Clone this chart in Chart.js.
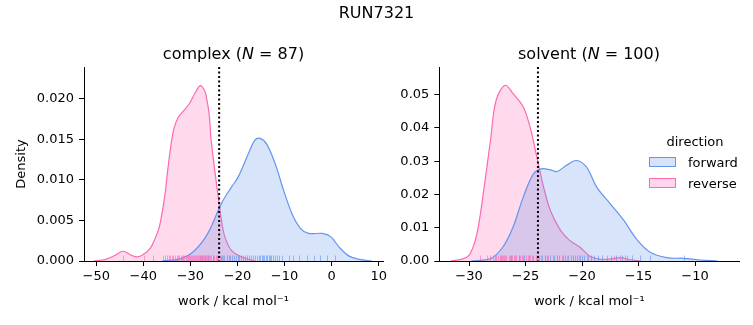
<!DOCTYPE html>
<html>
<head>
<meta charset="utf-8">
<script src="https://cdn.jsdelivr.net/npm/chart.js@4"></script>
<style>
	body { margin: 0; background: #fff; font-family: "DejaVu Sans", sans-serif; color: #000; }
	#wrap { position: relative; width: 753px; height: 325px; overflow: hidden; }
	canvas { position: absolute; top: 0; }
	.t { position: absolute; white-space: nowrap; }
	.big { font-size: 16px; line-height: 16px; }
	.small { font-size: 13px; line-height: 13px; }
	.swatch { position: absolute; width: 27px; height: 10px; box-sizing: border-box; }
</style>
</head>
<body>
<div id="wrap">
	<canvas id="complex" width="392" height="325" style="left:0"></canvas>
	<canvas id="solvent" width="361" height="325" style="left:392px"></canvas>

	<div class="t big" style="left:0;width:753px;top:4.5px;text-align:center">RUN7321</div>
	<div class="t big" style="left:84px;width:299px;top:45.5px;text-align:center">complex (<i>N</i> = 87)</div>
	<div class="t big" style="left:439px;width:300px;top:45.5px;text-align:center">solvent (<i>N</i> = 100)</div>

	<div class="t small" style="left:645px;width:100px;top:134.5px;text-align:center">direction</div>
	<div class="swatch" style="left:649px;top:157px;background:rgba(100,149,237,0.27);border:1px solid #6495ED"></div>
	<div class="t small" style="left:688px;top:155.8px">forward</div>
	<div class="swatch" style="left:649px;top:178px;background:rgba(255,105,180,0.27);border:1px solid #FF69B4"></div>
	<div class="t small" style="left:688px;top:176.5px">reverse</div>
</div>

<script>
// KDE curves (x = work, y = density)
const complexForwardX = [ -36, -32, -29.1, -26.3, -23.4, -21.3, -19.9, -17.7, -16.3, -15.2, -13.8, -12.0, -10.2, -8.4, -6.6, -4.9, -2.0, -0.2, 1.6, 3.7, 5.9, 8.5 ];
const complexForwardY = [ 0, 0.0003, 0.0013, 0.0034, 0.0071, 0.0091, 0.0103, 0.0132, 0.0149, 0.0151, 0.0144, 0.0120, 0.0087, 0.0058, 0.0040, 0.0034, 0.0034, 0.0030, 0.0017, 0.0006, 0.0002, 0 ];

const complexReverseX = [ -50.5, -48, -46, -44.3, -42.5, -41.3, -40, -38.5, -37.7, -36.8, -36.3, -35.4, -34.9, -34.2, -33.5, -32.6, -31.6, -30.2, -29.1, -27.9, -27.0, -26.6, -26.0, -25.6, -24.1, -23.4, -22.7, -21.3, -19.1, -16.3 ];
const complexReverseY = [ 0, 0.0002, 0.0007, 0.0012, 0.0007, 0.0005, 0.0008, 0.0016, 0.0025, 0.0038, 0.0050, 0.0082, 0.0108, 0.0140, 0.0163, 0.0177, 0.0184, 0.0194, 0.0206, 0.0216, 0.0210, 0.0202, 0.0180, 0.0149, 0.0079, 0.0050, 0.0030, 0.0013, 0.0005, 0 ];

const solventForwardX = [ -29.8, -28.1, -27.0, -26.1, -25.2, -24.3, -23.6, -22.8, -22.2, -21.4, -20.5, -19.6, -18.7, -17.5, -16.3, -15.2, -14.0, -12.5, -11.0, -9.6, -8.0 ];
const solventForwardY = [ 0, 0.0007, 0.0042, 0.0102, 0.0192, 0.0262, 0.0277, 0.0274, 0.0269, 0.0287, 0.0302, 0.0282, 0.0222, 0.0172, 0.0122, 0.0067, 0.0027, 0.0010, 0.0008, 0.0003, 0 ];

const solventReverseX = [ -31.6, -30.5, -29.9, -29.3, -28.7, -28.1, -27.6, -26.8, -26.1, -25.2, -24.6, -24.0, -23.4, -22.8, -21.9, -21.1, -20.2, -19.3, -18.4, -17.5, -16.6, -15.8, -14.8 ];
const solventReverseY = [ 0, 0.0007, 0.0022, 0.0082, 0.0212, 0.0363, 0.0483, 0.0528, 0.0503, 0.0463, 0.0403, 0.0313, 0.0222, 0.0152, 0.0092, 0.0062, 0.0042, 0.0014, 0.0005, 0.0006, 0.0010, 0.0004, 0 ];

// individual work values (rug ticks)
const complexForwardRug = [ -27.5, -26.2, -25.1, -24.4, -23.6, -23.2, -22.8, -22.3, -21.9, -21.5, -21.1, -20.7, -20.4, -20.0, -19.6, -19.2, -18.8, -18.4, -18.0, -17.5, -17.1, -16.7, -16.3, -15.9, -15.5, -15.2, -14.9, -14.6, -14.3, -14.0, -13.7, -13.4, -13.1, -12.8, -12.4, -12.0, -11.6, -11.1, -10.6, -9.1, -8.3, -7.0, -5.2, -3.8, -2.4, -1.0, 0.7 ];
const complexReverseRug = [ -44.4, -39.9, -37.9, -35.8, -35.5, -35.0, -34.6, -34.3, -33.9, -33.6, -33.2, -32.9, -32.7, -32.4, -32.1, -31.8, -31.6, -31.3, -31.0, -30.8, -30.6, -30.3, -30.1, -29.9, -29.7, -29.4, -29.2, -29.0, -28.8, -28.6, -28.4, -28.2, -28.0, -27.9, -27.7, -27.5, -27.3, -27.2, -27.0, -26.8, -26.6, -26.4, -26.2, -26.0, -25.8, -25.6, -25.3, -25.0, -24.6, -24.2, -23.7, -23.0, -22.3 ];
const solventForwardRug = [ -27.2, -26.3, -25.6, -25.1, -24.7, -24.3, -24.0, -23.8, -23.5, -23.3, -23.1, -22.8, -22.5, -22.2, -22.0, -21.7, -21.5, -21.2, -21.0, -20.8, -20.6, -20.4, -20.2, -20.0, -19.8, -19.5, -19.2, -18.9, -18.6, -18.2, -17.8, -17.4, -17.0, -16.5, -16.0, -15.6, -14.9, -14.0, -11.0 ];
const solventReverseRug = [ -29.0, -28.4, -28.1, -27.9, -27.7, -27.6, -27.4, -27.3, -27.1, -27.0, -26.9, -26.8, -26.7, -26.5, -26.4, -26.3, -26.2, -26.0, -25.9, -25.8, -25.6, -25.5, -25.3, -25.2, -25.0, -24.8, -24.6, -24.4, -24.1, -23.9, -23.6, -23.3, -23.0, -22.6, -22.2, -21.8, -21.3, -20.8, -20.3, -19.6, -17.2, -16.6, -16.2 ];

// dotted reference line
const complexEstimate = -23.9;
const solventEstimate = -23.9;

const BLUE = "#6495ED";
const PINK = "#FF69B4";

Chart.defaults.font.family = "'DejaVu Sans', sans-serif";
Chart.defaults.color = "#000";

const rugPlugin = {
	id: "rug",
	afterDatasetsDraw( chart, args, opts ) {
		const { ctx, chartArea, scales: { x } } = chart;
		ctx.save();
		ctx.globalAlpha = 0.6;
		ctx.lineWidth = 1;
		opts.sets.forEach( set => {
			ctx.strokeStyle = set.color;
			set.values.forEach( v => {
				const px = Math.round( x.getPixelForValue( v ) ) + 0.5;
				ctx.beginPath();
				ctx.moveTo( px, chartArea.bottom );
				ctx.lineTo( px, chartArea.bottom - 5.5 );
				ctx.stroke();
			} );
		} );
		ctx.restore();
	}
};

const vlinePlugin = {
	id: "vline",
	afterDatasetsDraw( chart, args, opts ) {
		const { ctx, chartArea, scales: { x } } = chart;
		const px = x.getPixelForValue( opts.value );
		ctx.save();
		ctx.strokeStyle = "#000";
		ctx.lineWidth = 2;
		ctx.setLineDash( [ 2, 2.5 ] );
		ctx.beginPath();
		ctx.moveTo( px, chartArea.top );
		ctx.lineTo( px, chartArea.bottom );
		ctx.stroke();
		ctx.restore();
	}
};

const minus = v => String( v ).replace( "-", "\u2212" );

function points( xs, ys ) {
	return xs.map( ( x, i ) => ( { x, y: ys[ i ] } ) );
}

function kde( label, xs, ys, color, fill ) {
	return {
		  label
		, data: points( xs, ys )
		, borderColor: color
		, backgroundColor: fill
		, borderWidth: 1.2
		, fill: "origin"
		, pointRadius: 0
		, tension: 0.35
	};
}

function makeChart( id, cfg ) {
	return new Chart( document.getElementById( id ), {
		  type: "line"
		, data: {
			datasets: [
				  kde( "forward", cfg.fx, cfg.fy, BLUE, "rgba(100,149,237,0.25)" )
				, kde( "reverse", cfg.rx, cfg.ry, PINK, "rgba(255,105,180,0.25)" )
			]
		}
		, plugins: [ rugPlugin, vlinePlugin ]
		, options: {
			  responsive: false
			, animation: false
			, devicePixelRatio: 1
			, layout: { padding: { left: 0, top: 67, right: cfg.padRight, bottom: 0 } }
			, plugins: {
				  legend: { display: false }
				, tooltip: { enabled: false }
				, rug: { sets: [ { color: BLUE, values: cfg.fRug }, { color: PINK, values: cfg.rRug } ] }
				, vline: { value: cfg.estimate }
			}
			, scales: {
				x: {
					  type: "linear"
					, min: cfg.xMin
					, max: cfg.xMax
					, ticks: { stepSize: cfg.xStep, includeBounds: false, autoSkip: false, maxRotation: 0, padding: 3, font: { size: 13 }, color: "#000", callback: minus }
					, grid: { drawOnChartArea: false, tickLength: 5, color: "#000", lineWidth: 1 }
					, border: { color: "#000", width: 1 }
					, title: { display: true, text: "work / kcal mol\u207B\u00B9", font: { size: 13 }, color: "#000", padding: { top: 0, bottom: 16 } }
					, afterFit: s => { s.height = 64; }
				}
				, y: {
					  min: 0
					, max: cfg.yMax
					, ticks: { stepSize: cfg.yStep, includeBounds: false, padding: 5, font: { size: 13 }, color: "#000", callback: v => v.toFixed( cfg.digits ) }
					, grid: { drawOnChartArea: false, tickLength: 5, color: "#000", lineWidth: 1 }
					, border: { color: "#000", width: 1 }
					, title: { display: cfg.yTitle, text: "Density", font: { size: 13 }, color: "#000", padding: { top: 14, bottom: 0 } }
					, afterFit: s => { s.width = cfg.yWidth; }
				}
			}
		}
	} );
}

makeChart( "complex", {
	  fx: complexForwardX, fy: complexForwardY
	, rx: complexReverseX, ry: complexReverseY
	, fRug: complexForwardRug, rRug: complexReverseRug
	, estimate: complexEstimate
	, xMin: -52.6, xMax: 10.9, xStep: 10
	, yMax: 0.0239, yStep: 0.005, digits: 3
	, yTitle: true, yWidth: 84, padRight: 9
} );

makeChart( "solvent", {
	  fx: solventForwardX, fy: solventForwardY
	, rx: solventReverseX, ry: solventReverseY
	, fRug: solventForwardRug, rRug: solventReverseRug
	, estimate: solventEstimate
	, xMin: -32.63, xMax: -6.08, xStep: 5
	, yMax: 0.0583, yStep: 0.01, digits: 2
	, yTitle: false, yWidth: 47.3, padRight: 13.7
} );
</script>
</body>
</html>
